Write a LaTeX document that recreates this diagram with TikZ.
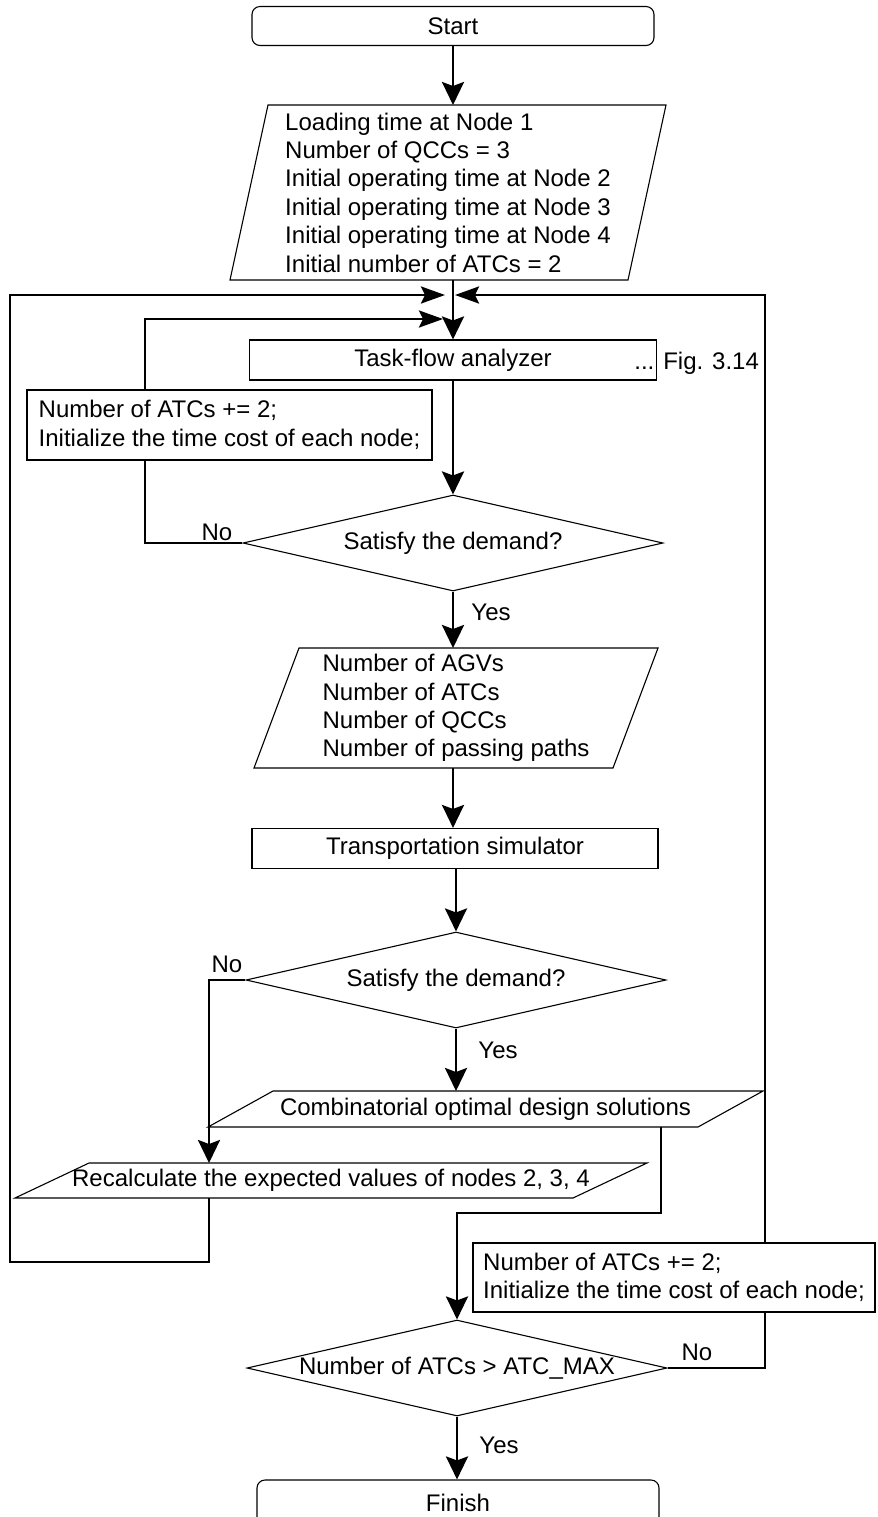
\documentclass[tikz,border=0pt]{standalone}
\usepackage{fontspec}
\setmainfont{Liberation Sans}
\usetikzlibrary{arrows.meta,shapes.geometric,calc}
\newcommand{\flowfont}{\fontsize{12pt}{14.2pt}\selectfont}
% outline of a slanted (data) box around a plain node
\newcommand{\slantbox}[2]{%
  \draw[line width=0.55pt] ([xshift=#2]#1.north west) -- ([xshift=#2]#1.north east) -- ([xshift=-#2]#1.south east) -- ([xshift=-#2]#1.south west) -- cycle;}
\tikzset{
  term/.style={draw, rounded corners=4pt, line width=0.55pt, minimum width=201pt, minimum height=19.5pt, inner sep=0pt, font=\flowfont},
  io/.style={rectangle, outer sep=0pt, inner sep=1pt, align=left, font=\flowfont},
  proc/.style={draw, line width=0.55pt, minimum height=20pt, inner sep=2pt, align=center, font=\flowfont},
  dec/.style={diamond, aspect=4.4, draw, line width=0.55pt, minimum width=210pt, minimum height=48pt, inner sep=0pt, font=\flowfont},
  lbl/.style={inner sep=0pt, font=\flowfont},
  arrow/.style={-{Stealth[length=11.5pt, width=11pt, inset=2pt]}, line width=1.4pt},
  merge/.style={-{Stealth[length=12pt, width=8.5pt, inset=2pt]}, line width=1.3pt}
}
\begin{document}
\begin{tikzpicture}[x=0.5pt,y=-0.5pt]
  \useasboundingbox (0,0) rectangle (878,1517);
  \node[term] (start) at (453,26) {Start};
  \node[io, minimum width=199pt, minimum height=87.5pt] (input) at (448,192.5) {Loading time at Node 1\\Number of QCCs = 3\\Initial operating time at Node 2\\Initial operating time at Node 3\\Initial operating time at Node 4\\Initial number of ATCs = 2};
  \slantbox{input}{9.5pt}
  \node[proc, minimum width=203.5pt] (task) at (453,360) {Task-flow analyzer};
  \node[lbl, anchor=west] (fig) at (634,363) {... Fig. 3.14};
  \node[dec] (dec1) at (453,543) {Satisfy the demand?};
  \node[io, minimum width=179.5pt, minimum height=60pt] (out) at (456,708) {Number of AGVs\\Number of ATCs\\Number of QCCs\\Number of passing paths};
  \slantbox{out}{11.25pt}
  \node[proc, minimum width=203pt] (sim) at (455,848.5) {Transportation simulator};
  \node[dec] (dec2) at (456,980) {Satisfy the demand?};
  \node[io, minimum width=245pt, minimum height=18pt] (comb) at (485.5,1109) {Combinatorial optimal design solutions};
  \slantbox{comb}{16.25pt}
  \node[io, minimum width=279pt, minimum height=17.5pt] (recalc) at (331,1180.5) {Recalculate the expected values of nodes 2, 3, 4};
  \slantbox{recalc}{18.5pt}
  \node[dec] (dec3) at (457,1368) {Number of ATCs > ATC\_MAX};
  \node[term, minimum height=23pt] (finish) at (458,1503) {Finish};

  \node[lbl] (no1) at (217,532) {No};
  \node[lbl] (yes1) at (491,612) {Yes};
  \node[lbl] (no2) at (227,964) {No};
  \node[lbl] (yes2) at (498,1050) {Yes};
  \node[lbl] (no3) at (697,1352) {No};
  \node[lbl] (yes3) at (499,1445) {Yes};

  % loop corners
  \coordinate (j1) at (453,295);
  \coordinate (j2) at (453,319);
  \coordinate (inL) at (145,319);
  \coordinate (outL) at (10,1262);
  \coordinate (outR) at (765,295);
  \coordinate (noL) at (209,980);
  \coordinate (cx) at (661,1213);

  \draw[arrow] (start.south) -- (start.south |- input.north);
  \draw[arrow] (j1 |- input.south) -- (j1 |- task.north);
  \draw[arrow] (task.south) -- (dec1.north);
  \draw[arrow, merge, shorten >=5pt] (dec1.west) -| (inL) -- (j2);
  \draw[arrow] (dec1.south) -- (dec1.south |- out.north);
  \draw[arrow] (dec1.south |- out.south) -- (dec1.south |- sim.north);
  \draw[arrow] (sim.south -| dec2) -- (dec2.north);
  \draw[arrow] (dec2.west) -- (noL) -- (noL |- recalc.north);
  \draw[arrow, merge, shorten >=4pt] (noL |- recalc.south) |- (outL) |- (j1);
  \draw[arrow] (dec2.south) -- (dec2.south |- comb.north);
  \draw[arrow] (cx |- comb.south) -- (cx) -| (dec3.north);
  \draw[arrow, merge, shorten >=1pt] (dec3.east) -| (outR) -- (j1);
  \draw[arrow] (dec3.south) -- (dec3.south |- finish.north);

  % boxes sitting on the loop lines
  \node[proc, fill=white, align=left, minimum width=202.5pt, minimum height=35pt] (incL) at (229.5,425) {Number of ATCs += 2;\\ Initialize the time cost of each node;};
  \node[proc, fill=white, align=left, minimum width=201pt, minimum height=34.5pt] (incR) at (674,1277.5) {Number of ATCs += 2;\\ Initialize the time cost of each node;};
\end{tikzpicture}
\end{document}
